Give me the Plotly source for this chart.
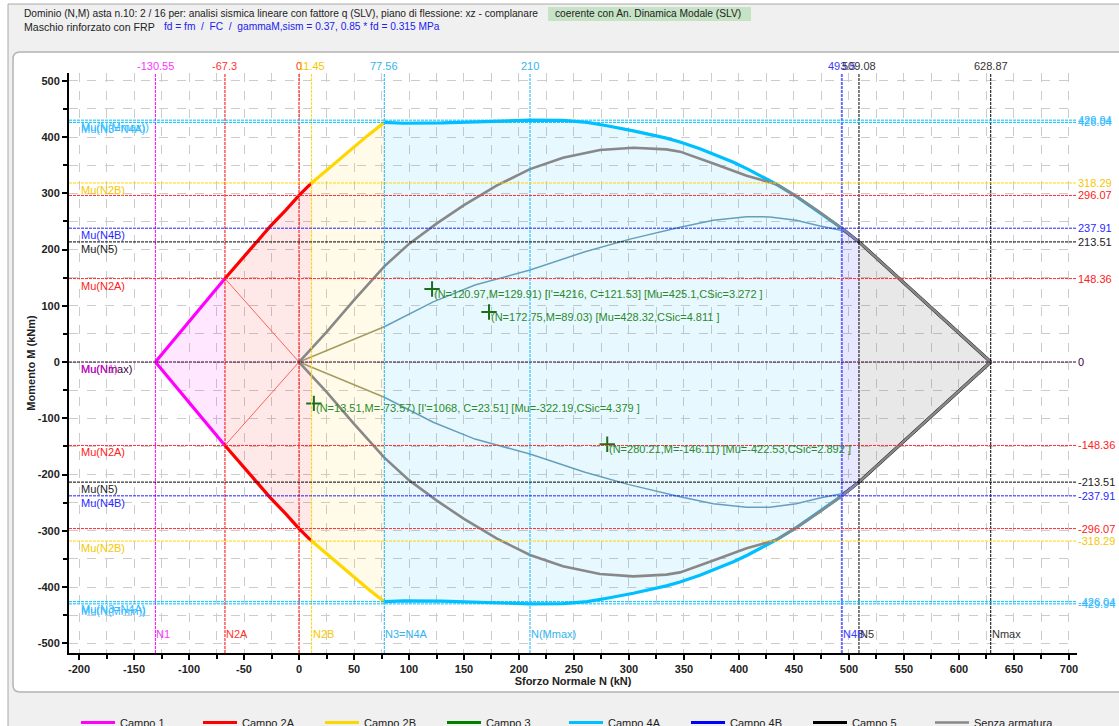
import plotly.graph_objects as go

# ---------------------------------------------------------------------------
# Interaction domain (N, M) - upper branch (M >= 0); the lower branch is mirrored
# ---------------------------------------------------------------------------
campo1_N = [-130.55, -67.3]
campo1_M = [0.0, 148.36]

campo2a_N = [-67.3, -55.0, -41.5, -26.4, -12.0, 0.0, 11.45]
campo2a_M = [148.36, 176.0, 208.0, 240.6, 270.0, 296.07, 318.29]

campo2b_N = [11.45, 30.0, 46.4, 62.0, 77.56]
campo2b_M = [318.29, 349.5, 377.0, 402.0, 426.04]

campo4a_N = [77.56, 95.0, 130.0, 170.0, 210.0, 240.0, 262.0, 280.0, 304.0, 334.0,
             346.4, 364.5, 376.7, 395.0, 408.0, 420.0, 434.0, 452.5, 473.6, 493.5]
campo4a_M = [426.04, 424.5, 425.0, 427.5, 429.94, 429.5, 426.0, 420.0, 411.0, 398.0,
             391.0, 379.0, 370.0, 355.0, 343.0, 331.0, 316.0, 294.0, 266.0, 237.91]

campo4b_N = [493.5, 509.08]
campo4b_M = [237.91, 213.51]

campo5_N = [509.08, 628.87]
campo5_M = [213.51, 0.0]

# Unreinforced section ("Senza armatura")
senza_N = [0.0, 11.45, 25.0, 50.0, 77.56, 100.0, 125.0, 150.0, 180.0, 210.0, 240.0,
           273.6, 304.0, 334.0, 346.4, 376.7, 407.0, 420.0, 434.0, 452.5, 473.6,
           493.5, 509.08, 628.87]
senza_M = [0.0, 24.0, 53.0, 110.0, 170.0, 210.0, 246.0, 279.0, 314.0, 343.0, 363.0,
           377.0, 381.0, 378.0, 374.0, 353.0, 331.0, 324.0, 316.0, 294.0, 266.0,
           237.91, 213.51, 0.0]

# Thin auxiliary curves from the origin
olive_N = [0.0, 77.56]
olive_M = [0.0, 62.7]
steel_N = [77.56, 122.0, 160.0, 210.0, 260.0, 300.0, 346.4, 376.7, 407.0, 428.0,
           452.0, 473.6, 493.5, 509.08]
steel_M = [62.7, 107.0, 137.0, 163.6, 196.0, 218.0, 239.4, 252.0, 258.4, 258.0,
           252.0, 241.8, 234.0, 213.51]

# Red diagonals Campo 2A
diag_N = [-67.3, 0.0, -67.3]
diag_M = [148.36, 0.0, -148.36]

# Verification points
pt_N = [120.97, 172.75, 13.51, 280.21]
pt_M = [129.91, 89.03, -73.57, -146.11]
pt_text = [
    "(N=120.97,M=129.91) [I'=4216, C=121.53] [Mu=425.1,CSic=3.272 ]",
    "(N=172.75,M=89.03) [Mu=428.32,CSic=4.811 ]",
    "(N=13.51,M=-73.57) [I'=1068, C=23.51] [Mu=-322.19,CSic=4.379 ]",
    "(N=280.21,M=-146.11) [Mu=-422.53,CSic=2.892 ]",
]

# Characteristic axial forces: value, colour, top label, bottom label
v_vals = [-130.55, -67.3, 0.0, 11.45, 77.56, 210.0, 493.5, 509.08, 628.87]
v_cols = ["#ff00ff", "#ff0000", "#ff0000", "#ffd700", "#1ab2ff", "#1ab2ff", "#6a6aff", "#000000", "#000000"]
v_widths = [1, 1, 1, 1, 1, 1, 2, 1, 1]
v_txtcols = ["#ff33ff", "#ff3333", "#ff3333", "#f5c800", "#33b5ee", "#33b5ee", "#3a3aff", "#333333", "#333333"]
v_top = ["-130.55", "-67.3", "0", "11.45", "77.56", "210", "493.5", "509.08", "628.87"]
v_bot = ["N1", "N2A", "", "N2B", "N3=N4A", "N(Mmax)", "N4B", "N5", "Nmax"]

# Characteristic moments: value, colour, left label, right label
h_vals = [429.94, 426.04, 318.29, 296.07, 237.91, 213.51, 148.36, 0.0,
          -148.36, -213.51, -237.91, -296.07, -318.29, -426.04, -429.94]
h_cols = ["#00bfff", "#00bfff", "#ffd700", "#ff3030", "#2020ff", "#000000", "#ff3030", "#300030",
          "#ff3030", "#000000", "#2020ff", "#ff3030", "#ffd700", "#00bfff", "#00bfff"]
h_txtcols = ["#33bbff", "#33bbff", "#f5c800", "#ff2020", "#2a2aff", "#222222", "#ff2020", "#3a003a",
             "#ff2020", "#222222", "#2a2aff", "#ff2020", "#f5c800", "#33bbff", "#33bbff"]
h_left = ["Mu(N(Mmax))", "Mu(N3=N4A)", "Mu(N2B)", "", "Mu(N4B)", "Mu(N5)", "Mu(N2A)", "Mu(Nmax)",
          "Mu(N2A)", "Mu(N5)", "Mu(N4B)", "", "Mu(N2B)", "Mu(N3=N4A)", "Mu(N(Mmin))"]
h_right = ["429.94", "426.04", "318.29", "296.07", "237.91", "213.51", "148.36", "0",
           "-148.36", "-213.51", "-237.91", "-296.07", "-318.29", "-426.04", "-429.94"]

# Axis ticks
x_ticks = list(range(-200, 701, 50))
x_ticklabels = [str(v) for v in x_ticks]
y_ticks = list(range(-500, 501, 100))
y_ticklabels = [str(v) for v in y_ticks]

# ---------------------------------------------------------------------------
W, H = 1119, 726
L, R, T, B = 69, 1077, 73, 653
X_RANGE = [-209.1, 707.3]
Y_RANGE = [-517.3, 513.8]
FONT = "Liberation Sans, Arial, sans-serif"


def px_x(p):
    return (p - L) / (R - L)


def px_y(p):
    return (B - p) / (B - T)


def mirror(M):
    return [-m for m in M]


def branch(N, M):
    return N + [None] + N, M + [None] + mirror(M)


def polygon(N, M):
    return N + N[::-1], M + mirror(M)[::-1]


fig = go.Figure()

# Campo fills
fills = [
    (campo1_N, campo1_M, "rgba(255,0,255,0.09)"),
    (campo2a_N, campo2a_M, "rgba(255,0,0,0.09)"),
    (campo2b_N, campo2b_M, "rgba(255,215,0,0.09)"),
    (campo4a_N, campo4a_M, "rgba(0,180,255,0.09)"),
    (campo4b_N, campo4b_M, "rgba(40,40,255,0.11)"),
    (campo5_N, campo5_M, "rgba(120,120,120,0.17)"),
]
for n, m, c in fills:
    px, py = polygon(n, m)
    fig.add_trace(go.Scatter(x=px, y=py, mode="lines", line=dict(width=0), fill="toself",
                             fillcolor=c, hoverinfo="skip", showlegend=False))

# Thin curves
fig.add_trace(go.Scatter(x=diag_N, y=diag_M, mode="lines", line=dict(color="#ff6060", width=1),
                         showlegend=False, hoverinfo="skip"))
ox, oy = branch(olive_N, olive_M)
fig.add_trace(go.Scatter(x=ox, y=oy, mode="lines", line=dict(color="#a39c60", width=1.5),
                         showlegend=False, hoverinfo="skip"))
sx, sy = branch(steel_N, steel_M)
fig.add_trace(go.Scatter(x=sx, y=sy, mode="lines", line=dict(color="#64a0bb", width=1.5),
                         showlegend=False, hoverinfo="skip"))

# Campo boundary lines
campi = [
    ("Campo 1", campo1_N, campo1_M, "#ff00ff"),
    ("Campo 2A", campo2a_N, campo2a_M, "#ff0000"),
    ("Campo 2B", campo2b_N, campo2b_M, "#ffd700"),
    ("Campo 3", None, None, "#008000"),
    ("Campo 4A", campo4a_N, campo4a_M, "#00bfff"),
    ("Campo 4B", campo4b_N, campo4b_M, "#0000ff"),
    ("Campo 5", campo5_N, campo5_M, "#000000"),
]
for name, n, m, c in campi:
    if n is None:
        bx, by = [None], [None]
    else:
        bx, by = branch(n, m)
    fig.add_trace(go.Scatter(x=bx, y=by, mode="lines", name=name,
                             line=dict(color=c, width=3.2)))

gx, gy = branch(senza_N, senza_M)
fig.add_trace(go.Scatter(x=gx, y=gy, mode="lines", name="Senza armatura",
                         line=dict(color="#888888", width=2.6)))

# Verification points
fig.add_trace(go.Scatter(x=pt_N, y=pt_M, mode="markers", showlegend=False,
                         marker=dict(symbol="cross-thin", size=11,
                                     line=dict(color="#1c6e1c", width=2))))

# Characteristic lines
for v, c, w in zip(v_vals, v_cols, v_widths):
    fig.add_shape(type="line", xref="x", yref="paper", x0=v, x1=v, y0=0, y1=1,
                  line=dict(color=c, width=w, dash="3px,1px"), layer="above")
for h, c in zip(h_vals, h_cols):
    fig.add_shape(type="line", xref="paper", yref="y", x0=0, x1=1, y0=h, y1=h,
                  line=dict(color=c, width=1, dash="3px,1px"), layer="above")

ann = []
for v, c, t, b in zip(v_vals, v_txtcols, v_top, v_bot):
    ann.append(dict(x=v, y=1, xref="x", yref="paper", text=t, showarrow=False,
                    xanchor="center", yanchor="bottom", yshift=-1,
                    font=dict(family=FONT, size=11, color=c)))
    if b:
        ann.append(dict(x=v, y=-483.6, xref="x", yref="y", text=b, showarrow=False,
                        xanchor="left", yanchor="middle", xshift=-1,
                        font=dict(family=FONT, size=11, color=c)))
for h, c, lt, rt in zip(h_vals, h_txtcols, h_left, h_right):
    if lt:
        ann.append(dict(x=-200, y=h, xref="x", yref="y", text=lt, showarrow=False,
                        xanchor="left", yanchor="top", yshift=1,
                        font=dict(family=FONT, size=11, color=c)))
    ann.append(dict(x=1, y=h, xref="paper", yref="y", text=rt, showarrow=False,
                    xanchor="left", yanchor="middle", xshift=-1,
                    font=dict(family=FONT, size=11, color=c)))
# second label on the zero line
ann.append(dict(x=-200, y=0, xref="x", yref="y", text="Mu(N1)", showarrow=False,
                xanchor="left", yanchor="top", yshift=1,
                font=dict(family=FONT, size=11, color="rgba(255,0,255,0.8)")))

for n, m, t in zip(pt_N, pt_M, pt_text):
    ann.append(dict(x=n, y=m, xref="x", yref="y", text=t, showarrow=False,
                    xanchor="left", yanchor="middle", xshift=0, yshift=-5,
                    font=dict(family=FONT, size=11, color="#2a8a2a")))

# Header
HFS = 10.2
ann.append(dict(x=px_x(22), y=px_y(14), xref="paper", yref="paper", showarrow=False,
                xanchor="left", yanchor="middle",
                text="Dominio (N,M) asta n.10: 2 / 16 per: analisi sismica lineare con fattore q (SLV), "
                     "piano di flessione: xz - complanare",
                font=dict(family=FONT, size=HFS, color="#222222")))
ann.append(dict(x=px_x(553), y=px_y(14), xref="paper", yref="paper", showarrow=False,
                xanchor="left", yanchor="middle", text="coerente con An. Dinamica Modale (SLV)",
                font=dict(family=FONT, size=HFS, color="#222222")))
ann.append(dict(x=px_x(22), y=px_y(27), xref="paper", yref="paper", showarrow=False,
                xanchor="left", yanchor="middle", text="Maschio rinforzato con FRP",
                font=dict(family=FONT, size=10.6, color="#222222")))
ann.append(dict(x=px_x(162), y=px_y(27), xref="paper", yref="paper", showarrow=False,
                xanchor="left", yanchor="middle",
                text="fd = fm  /  FC  /  gammaM,sism = 0.37, 0.85 * fd = 0.315 MPa",
                font=dict(family=FONT, size=HFS, color="#2020ee")))

shapes_bg = [
    # outer frame
    dict(type="rect", xref="paper", yref="paper", x0=px_x(8), x1=px_x(1130), y0=px_y(740), y1=px_y(4),
         fillcolor="#f0f0f0", line=dict(color="#a8a8a8", width=1), layer="below"),
    # green badge
    dict(type="rect", xref="paper", yref="paper", x0=px_x(548), x1=px_x(751), y0=px_y(21), y1=px_y(7),
         fillcolor="#c6e3c6", line=dict(width=0), layer="below"),
]
# white rounded panel
r = 7
x0p, x1p, y0p, y1p = 13, 1130, 52, 692
path = (f"M {px_x(x0p + r)},{px_y(y0p)} L {px_x(x1p)},{px_y(y0p)} L {px_x(x1p)},{px_y(y1p)} "
        f"L {px_x(x0p + r)},{px_y(y1p)} Q {px_x(x0p)},{px_y(y1p)} {px_x(x0p)},{px_y(y1p - r)} "
        f"L {px_x(x0p)},{px_y(y0p + r)} Q {px_x(x0p)},{px_y(y0p)} {px_x(x0p + r)},{px_y(y0p)} Z")
shapes_bg.append(dict(type="path", xref="paper", yref="paper", path=path, fillcolor="#ffffff",
                      line=dict(color="#b4b4b4", width=1.5), layer="below"))
for s in shapes_bg:
    fig.add_shape(**s)

axis_common = dict(
    showline=True, linecolor="#000000", linewidth=2, zeroline=False,
    ticks="outside", ticklen=5, tickwidth=1.5, tickcolor="#000000",
    showgrid=True, gridcolor="#cccccc", griddash="dash", gridwidth=1,
    tickfont=dict(family=FONT, size=11, color="#222222", weight="bold"),
)
fig.update_xaxes(range=X_RANGE, tickmode="array", tickvals=x_ticks, ticktext=x_ticklabels,
                 minor=dict(dtick=25, tick0=0, ticks="outside", ticklen=4, tickcolor="#000000",
                            showgrid=True, gridcolor="#cccccc", griddash="dash"),
                 title=dict(text="Sforzo Normale N (kN)", standoff=2,
                            font=dict(family=FONT, size=11, color="#222222", weight="bold")),
                 **axis_common)
fig.update_yaxes(range=Y_RANGE, tickmode="array", tickvals=y_ticks, ticktext=y_ticklabels,
                 minor=dict(dtick=50, tick0=0, ticks="outside", ticklen=4, tickcolor="#000000",
                            showgrid=True, gridcolor="#cccccc", griddash="dash"),
                 title=dict(text="Momento M (kNm)", standoff=0,
                            font=dict(family=FONT, size=11, color="#222222", weight="bold")),
                 **axis_common)

fig.update_layout(
    width=W, height=H,
    margin=dict(l=L, r=W - R, t=T, b=H - B, autoexpand=False),
    paper_bgcolor="#ffffff", plot_bgcolor="rgba(0,0,0,0)",
    font=dict(family=FONT, size=11, color="#222222"),
    annotations=ann,
    showlegend=True,
    legend=dict(orientation="h", xref="container", yref="container", x=76 / W, y=18 / H,
                xanchor="left", yanchor="top", entrywidth=73, entrywidthmode="pixels",
                itemwidth=34, bgcolor="rgba(0,0,0,0)",
                font=dict(family=FONT, size=11, color="#222222")),
)

fig.write_html("out.html")
